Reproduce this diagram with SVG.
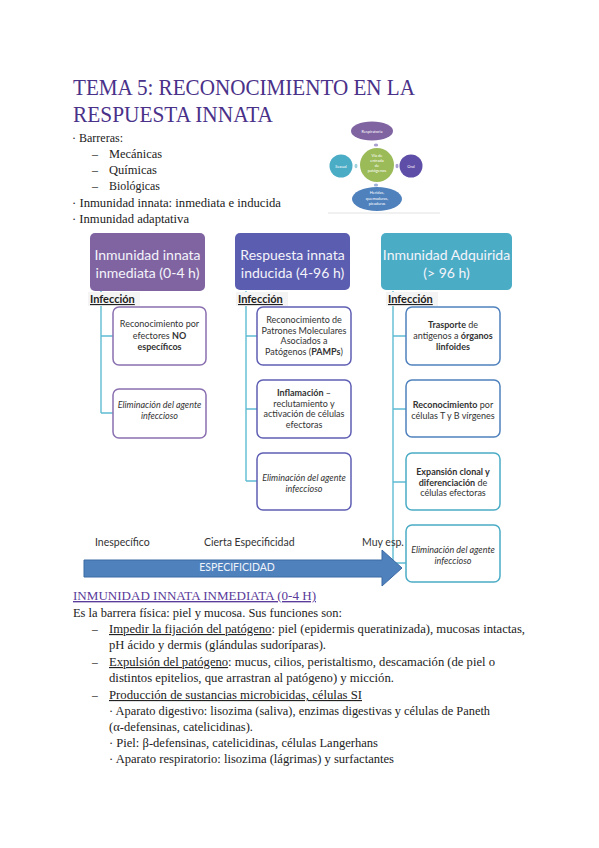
<svg xmlns="http://www.w3.org/2000/svg" width="599" height="848" viewBox="0 0 599 848">
<style>
.ttl{font-family:"Liberation Serif",serif;font-size:23px;fill:#4a3189}
.tx{font-family:"Liberation Serif",serif;font-size:12px;fill:#222}
.bd{font-family:"Liberation Serif",serif;font-size:11.5px;fill:#222}
.h2{font-family:"Liberation Serif",serif;font-size:13.5px;fill:#5a3a9a;text-decoration:underline}
.hd{font-family:Lato,"Open Sans",sans-serif;font-size:14px;fill:#f4f4fa;text-anchor:middle}
.ct{font-family:Lato,"Open Sans",sans-serif;font-size:9px;fill:#333;text-anchor:middle}
.it{font-style:italic}
.b{font-weight:bold}
.inf{font-family:Lato,"Open Sans",sans-serif;font-size:11px;font-weight:bold;fill:#222;text-decoration:underline}
.lbl{font-family:Lato,"Open Sans",sans-serif;font-size:10.5px;fill:#333}
.sm{font-family:Lato,"Open Sans",sans-serif;font-size:4px;fill:#fff;text-anchor:middle}
.con{stroke:#5fbcd3;stroke-width:1.4;fill:none}
.c1{fill:#fff;stroke:#8a70b0;stroke-width:1.5}
.c2{fill:#fff;stroke:#5f5fb5;stroke-width:1.5}
.c3{fill:#fff;stroke:#4f81bd;stroke-width:1.5}
.c4{fill:#fff;stroke:#4bacc6;stroke-width:1.5}
.ul{text-decoration:underline}
</style>
<rect width="599" height="848" fill="#fff"/>

<!-- Title -->
<text class="ttl" x="73" y="95" textLength="342" lengthAdjust="spacingAndGlyphs">TEMA 5: RECONOCIMIENTO EN LA</text>
<text class="ttl" x="73" y="122" textLength="200" lengthAdjust="spacingAndGlyphs">RESPUESTA INNATA</text>

<!-- Top list -->
<text class="tx" x="72" y="142" textLength="51" lengthAdjust="spacingAndGlyphs">· Barreras:</text>
<text class="tx" x="92" y="158">–</text>
<text class="tx" x="109" y="158" textLength="53" lengthAdjust="spacingAndGlyphs">Mecánicas</text>
<text class="tx" x="92" y="174">–</text>
<text class="tx" x="109" y="174" textLength="48" lengthAdjust="spacingAndGlyphs">Químicas</text>
<text class="tx" x="92" y="190">–</text>
<text class="tx" x="109" y="190" textLength="51" lengthAdjust="spacingAndGlyphs">Biológicas</text>
<text class="tx" x="72" y="207" textLength="209" lengthAdjust="spacingAndGlyphs">· Inmunidad innata: inmediata e inducida</text>
<text class="tx" x="72" y="223" textLength="117" lengthAdjust="spacingAndGlyphs">· Inmunidad adaptativa</text>

<!-- Small diagram: vias de entrada -->
<g id="vias">
  <line x1="328" y1="213" x2="440" y2="213" stroke="#e2e2e2" stroke-width="1"/>
  <g id="respiratoria">
    <ellipse cx="372" cy="131" rx="21" ry="9.5" fill="#8064a2"/>
    <text class="sm" x="372" y="132.5">Respiratoria</text>
  </g>
  <g id="centro">
    <circle cx="377" cy="165" r="17" fill="#9bbb59"/>
    <text class="sm" x="377" y="157">Vía de</text>
    <text class="sm" x="377" y="162">entrada</text>
    <text class="sm" x="377" y="167">de</text>
    <text class="sm" x="377" y="172">patógenos</text>
  </g>
  <g id="sexual">
    <circle cx="341" cy="166" r="11.5" fill="#4bacc6"/>
    <text class="sm" x="341" y="167.5">Sexual</text>
  </g>
  <g id="oral">
    <circle cx="411" cy="166" r="11.5" fill="#5f4ea8"/>
    <text class="sm" x="411" y="167.5">Oral</text>
  </g>
  <g id="heridas">
    <ellipse cx="377" cy="199" rx="25" ry="12" fill="#4f81bd"/>
    <text class="sm" x="377" y="194">Heridas,</text>
    <text class="sm" x="377" y="199.5">quemaduras,</text>
    <text class="sm" x="377" y="205">picaduras</text>
  </g>
  <g fill="#a9a0d0">
    <ellipse cx="376" cy="145" rx="2.2" ry="1.5"/>
    <ellipse cx="376" cy="185" rx="2.2" ry="1.5" fill="#9fb4d8"/>
    <ellipse cx="356" cy="166" rx="1.5" ry="2.2" fill="#9fd2de"/>
    <ellipse cx="397" cy="166" rx="1.5" ry="2.2"/>
  </g>
</g>

<!-- Connectors -->
<g id="connectors">
  <path class="con" d="M101,291 V413 M101,336 H113 M101,413 H113"/>
  <path class="con" d="M246,291 V481 M246,336 H257 M246,409 H257 M246,481 H257"/>
  <path class="con" d="M393,291 V563 M393,336 H406 M393,409 H406 M393,482 H406 M393,563 H406"/>
</g>

<!-- Column 1 -->
<g id="col1-header">
  <rect x="90" y="233" width="115" height="58" rx="5" fill="#8064a2"/>
  <text class="hd" x="147.5" y="260">Inmunidad innata</text>
  <text class="hd" x="147.5" y="278">inmediata (0-4 h)</text>
</g>
<g id="col1-infeccion">
  <rect x="88" y="292" width="52" height="14" fill="#f4f4f4"/>
  <text class="inf" x="90" y="303">Infección</text>
</g>
<g id="col1-n1">
  <rect class="c1" x="113" y="307" width="93" height="58" rx="6"/>
  <text class="ct" x="159.5" y="327">Reconocimiento por</text>
  <text class="ct" x="159.5" y="338.5">efectores <tspan class="b">NO</tspan></text>
  <text class="ct b" x="159.5" y="350">específicos</text>
</g>
<g id="col1-n2">
  <rect class="c1" x="113" y="389" width="93" height="49" rx="6"/>
  <text class="ct it" x="159.5" y="408">Eliminación del agente</text>
  <text class="ct it" x="159.5" y="419">infeccioso</text>
</g>

<!-- Column 2 -->
<g id="col2-header">
  <rect x="235" y="233" width="115" height="57" rx="5" fill="#5b5db0"/>
  <text class="hd" x="292.5" y="260">Respuesta innata</text>
  <text class="hd" x="292.5" y="278">inducida (4-96 h)</text>
</g>
<g id="col2-infeccion">
  <rect x="236" y="292" width="52" height="14" fill="#f4f4f4"/>
  <text class="inf" x="238" y="303">Infección</text>
</g>
<g id="col2-n1">
  <rect class="c2" x="257" y="307" width="94" height="58" rx="6"/>
  <text class="ct" x="304" y="323">Reconocimiento de</text>
  <text class="ct" x="304" y="333.5">Patrones Moleculares</text>
  <text class="ct" x="304" y="344">Asociados a</text>
  <text class="ct" x="304" y="354.5">Patógenos (<tspan class="b">PAMPs</tspan>)</text>
</g>
<g id="col2-n2">
  <rect class="c2" x="257" y="380" width="94" height="58" rx="6"/>
  <text class="ct" x="304" y="396"><tspan class="b">Inflamación</tspan> –</text>
  <text class="ct" x="304" y="406.5">reclutamiento y</text>
  <text class="ct" x="304" y="417">activación de células</text>
  <text class="ct" x="304" y="427.5">efectoras</text>
</g>
<g id="col2-n3">
  <rect class="c2" x="257" y="453" width="94" height="57" rx="6"/>
  <text class="ct it" x="304" y="481">Eliminación del agente</text>
  <text class="ct it" x="304" y="492">infeccioso</text>
</g>

<!-- Column 3 -->
<g id="col3-header">
  <rect x="381" y="233" width="131" height="57" rx="5" fill="#4bacc6"/>
  <text class="hd" x="446.5" y="260">Inmunidad Adquirida</text>
  <text class="hd" x="446.5" y="278">(&gt; 96 h)</text>
</g>
<g id="col3-infeccion">
  <rect x="386" y="292" width="52" height="14" fill="#f4f4f4"/>
  <text class="inf" x="388" y="303">Infección</text>
</g>
<g id="col3-n1">
  <rect class="c3" x="406" y="307" width="94" height="58" rx="6"/>
  <text class="ct" x="453" y="328"><tspan class="b">Trasporte</tspan> de</text>
  <text class="ct" x="453" y="339">antigenos a <tspan class="b">órganos</tspan></text>
  <text class="ct b" x="453" y="350">linfoides</text>
</g>
<g id="col3-n2">
  <rect class="c3" x="406" y="380" width="94" height="57" rx="6"/>
  <text class="ct" x="453" y="408"><tspan class="b">Reconocimiento</tspan> por</text>
  <text class="ct" x="453" y="419">células T y B vírgenes</text>
</g>
<g id="col3-n3">
  <rect class="c4" x="406" y="453" width="94" height="57" rx="6"/>
  <text class="ct b" x="453" y="475">Expansión clonal y</text>
  <text class="ct" x="453" y="485.5"><tspan class="b">diferenciación</tspan> de</text>
  <text class="ct" x="453" y="496">células efectoras</text>
</g>
<g id="col3-n4">
  <rect class="c4" x="406" y="525" width="94" height="57" rx="6"/>
  <text class="ct it" x="453" y="553">Eliminación del agente</text>
  <text class="ct it" x="453" y="564">infeccioso</text>
</g>

<!-- Specificity arrow -->
<g id="especificidad">
  <text class="lbl" x="95" y="546">Inespecífico</text>
  <text class="lbl" x="204" y="546">Cierta Especificidad</text>
  <text class="lbl" x="362" y="546">Muy esp.</text>
  <path d="M84,560 H382 V550 L402,568 L382,586 V577 H84 Z" fill="#4f81bd" stroke="#3b6aa3" stroke-width="1"/>
  <text class="lbl" x="237" y="571" fill="#fff" style="fill:#f0f4fa" text-anchor="middle">ESPECIFICIDAD</text>
</g>

<!-- Section text -->
<text class="h2" x="73" y="600" textLength="243" lengthAdjust="spacingAndGlyphs">INMUNIDAD INNATA INMEDIATA (0-4 H)</text>
<text class="bd" x="73" y="617" textLength="269" lengthAdjust="spacingAndGlyphs">Es la barrera física: piel y mucosa. Sus funciones son:</text>
<text class="bd" x="92" y="633">–</text>
<text class="bd" x="109" y="633" textLength="416" lengthAdjust="spacingAndGlyphs"><tspan class="ul">Impedir la fijación del patógeno</tspan>: piel (epidermis queratinizada), mucosas intactas,</text>
<text class="bd" x="109" y="649" textLength="217" lengthAdjust="spacingAndGlyphs">pH ácido y dermis (glándulas sudoríparas).</text>
<text class="bd" x="92" y="666">–</text>
<text class="bd" x="109" y="666" textLength="386" lengthAdjust="spacingAndGlyphs"><tspan class="ul">Expulsión del patógeno</tspan>: mucus, cilios, peristaltismo, descamación (de piel o</text>
<text class="bd" x="109" y="682" textLength="285" lengthAdjust="spacingAndGlyphs">distintos epitelios, que arrastran al patógeno) y micción.</text>
<text class="bd" x="92" y="699">–</text>
<text class="bd" x="109" y="699" textLength="253" lengthAdjust="spacingAndGlyphs"><tspan class="ul">Producción de sustancias microbicidas, células SI</tspan></text>
<text class="bd" x="109" y="715" textLength="381" lengthAdjust="spacingAndGlyphs">· Aparato digestivo: lisozima (saliva), enzimas digestivas y células de Paneth</text>
<text class="bd" x="109" y="731" textLength="144" lengthAdjust="spacingAndGlyphs">(α-defensinas, catelicidinas).</text>
<text class="bd" x="109" y="747" textLength="269" lengthAdjust="spacingAndGlyphs">· Piel: β-defensinas, catelicidinas, células Langerhans</text>
<text class="bd" x="109" y="763" textLength="285" lengthAdjust="spacingAndGlyphs">· Aparato respiratorio: lisozima (lágrimas) y surfactantes</text>
</svg>
